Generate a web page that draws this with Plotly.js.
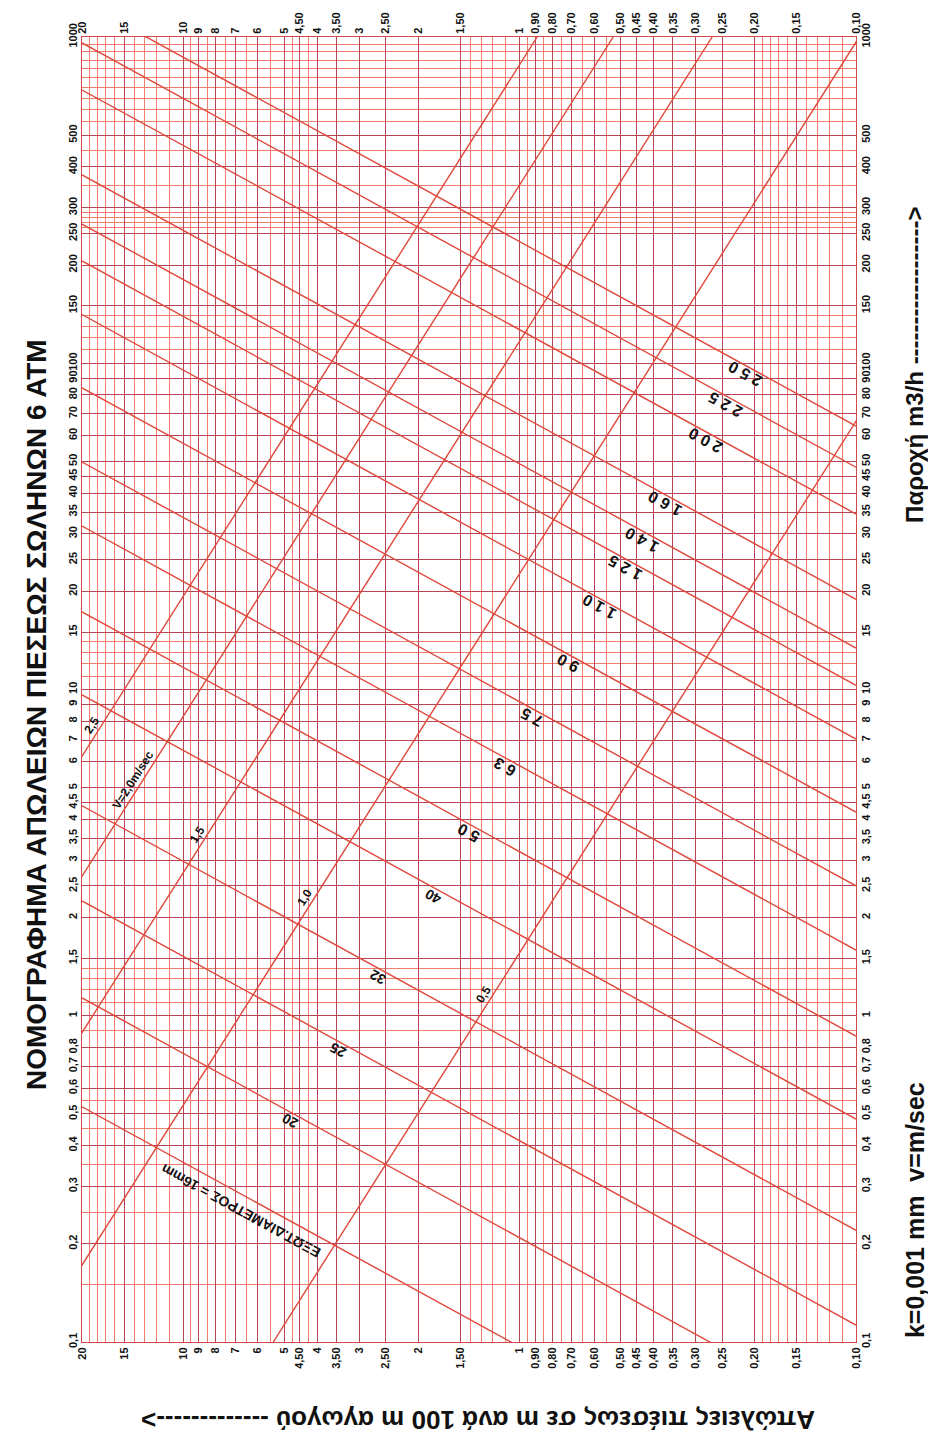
<!DOCTYPE html>
<html>
<head>
<meta charset="utf-8">
<script src="https://cdn.plot.ly/plotly-3.0.1.min.js"></script>
<style>
html,body{margin:0;padding:0;background:#fff;}
#chart{width:928px;height:1437px;}
</style>
</head>
<body>
<div id="chart"></div>
<script>
// ---------------- DATA ----------------
// Head loss axis (m per 100 m) - labelled grid values
const lossMajor = [20,15,10,9,8,7,6,5,4.5,4,3.5,3,2.5,2,1.5,1,0.9,0.8,0.7,0.6,0.5,0.45,0.4,0.35,0.3,0.25,0.2,0.15,0.1];
const lossMajorText = ["20","15","10","9","8","7","6","5","4,50","4","3,50","3","2,50","2","1,50","1","0,90","0,80","0,70","0,60","0,50","0,45","0,40","0,35","0,30","0,25","0,20","0,15","0,10"];
// unlabelled head-loss grid values
const lossMinor = [19,18,17,16,14,13,12,11,9.5,8.5,7.5,6.5,5.5,4.75,4.25,1.4,1.3,1.2,1.1,0.95,0.85,0.75,0.65,0.55,0.19,0.18,0.17,0.16,0.14,0.13,0.12,0.11];

// Flow axis (m3/h) - labelled grid values
const flowMajor = [0.1,0.2,0.3,0.4,0.5,0.6,0.7,0.8,1,1.5,2,2.5,3,3.5,4,4.5,5,6,7,8,9,10,15,20,25,30,35,40,45,50,60,70,80,90,100,150,200,250,300,400,500,1000];
const flowMajorText = ["0,1","0,2","0,3","0,4","0,5","0,6","0,7","0,8","1","1,5","2","2,5","3","3,5","4","4,5","5","6","7","8","9","10","15","20","25","30","35","40","45","50","60","70","80","90","100","150","200","250","300","400","500","1000"];
// unlabelled flow grid values
const flowMinor = [0.15,0.25,0.35,0.45,0.55,0.9,1.1,1.2,1.3,1.4,11,12,13,14,110,120,130,140,260,270,280,290,350,450,550,600,650,700,750,800,850,900,950];

// Pipe outside diameters (mm) and the flow each line has at 20 and at 0.1 m/100m
const diameters = ["16","20","25","32","40","50","63","75","90","110","125","140","160","200","225","250"];
const diaFlowAtLoss20 = [0.526,1.134,2.25,4.40,9.63,17.3,31.7,49.8,84.0,141,206,267,378,688,959,1282];
const diaFlowAtLoss01 = [0.0263,0.0568,0.1127,0.220,0.482,0.866,1.59,2.50,4.21,7.05,10.3,13.4,18.9,34.5,48.0,64.2];
const diaLabels = ["ΕΞΩΤ.ΔΙΑΜΕΤΡΟΣ = 16mm","20","25","32","40","5 0","6 3","7 5","9 0","1 1 0","1 2 5","1 4 0","1 6 0","2 0 0","2 2 5","2 5 0"];

// Velocity lines (m/sec): head loss at flow 1000 and at flow 0.1
const velocities = ["0,5","1,0","1,5","2,0","2,5"];
const velLossAtFlow1000 = [0.01893,0.0978,0.2677,0.527,0.887];
const velLossAtFlow01 = [5.40,27.9,76.4,150.4,253];
const velLabels = ["0,5","1,0","1,5","V=2,0m/sec","2,5"];

// ---------------- LAYOUT HELPERS ----------------
const diaLabelLoss = [6.73,4.82,3.47,2.64,1.81,1.42,1.105,0.919,0.718,0.581,0.486,0.433,0.370,0.281,0.245,0.214];
const velLabelFlow = [1.16,2.31,3.58,5.28,7.79];

const FONT = "'Liberation Sans',Arial,sans-serif";
const majorColor = "#b84458";
const minorColor = "#ef7f6c";
const lineColor = "#e0473a";
const L = Math.log10;

const traces = [];
diameters.forEach((d,i)=>{
  traces.push({type:"scatter",mode:"lines",x:[20,0.1],y:[diaFlowAtLoss20[i],diaFlowAtLoss01[i]],
    line:{color:lineColor,width:1.4},hoverinfo:"skip",xaxis:"x",yaxis:"y",name:d});
});
velocities.forEach((v,i)=>{
  traces.push({type:"scatter",mode:"lines",x:[velLossAtFlow1000[i],velLossAtFlow01[i]],y:[1000,0.1],
    line:{color:lineColor,width:1.4},hoverinfo:"skip",xaxis:"x2",yaxis:"y2",name:v});
});

const annotations = [];
diameters.forEach((d,i)=>{
  const lx = L(diaLabelLoss[i]);
  const t = (L(20)-lx)/(L(20)-L(0.1));
  const ly = L(diaFlowAtLoss20[i]) + t*(L(diaFlowAtLoss01[i])-L(diaFlowAtLoss20[i]));
  annotations.push({x:lx,y:ly,xref:"x",yref:"y",text:diaLabels[i],showarrow:false,textangle:-151.3,
    xanchor:"center",yanchor:"middle",
    yshift:(i===0?-17:-9),font:{family:FONT,size:(i===0?14:(i<5?14:16)),weight:"bold",color:"#111"}});
});
velocities.forEach((v,i)=>{
  const ly = L(velLabelFlow[i]);
  const t = (L(1000)-ly)/(L(1000)-L(0.1));
  const lx = L(velLossAtFlow1000[i]) + t*(L(velLossAtFlow01[i])-L(velLossAtFlow1000[i]));
  annotations.push({x:lx,y:ly,xref:"x",yref:"y",text:velLabels[i],showarrow:false,textangle:-57.7,
    xanchor:"center",yanchor:"middle",
    xshift:-10,font:{family:FONT,size:12,weight:"bold",color:"#111"}});
});
const big = (x,y,text,angle,size)=>({xref:"paper",yref:"paper",x:x,y:y,text:text,showarrow:false,textangle:angle,
  xanchor:"center",yanchor:"middle",font:{family:FONT,size:size,weight:"bold",color:"#111"}});
annotations.push(big(-0.0581,0.4805,"ΝΟΜΟΓΡΑΦΗΜΑ ΑΠΩΛΕΙΩΝ ΠΙΕΣΕΩΣ ΣΩΛΗΝΩΝ 6 ΑΤΜ",-90,28));
annotations.push(big(1.0762,0.7487,"Παροχή m3/h ------------------>",-90,24));
annotations.push(big(1.0762,0.1011,"k=0,001 mm  v=m/sec",-90,25));
annotations.push(big(0.5116,-0.0598,"Απώλειες πιέσεως σε m ανά 100 m αγωγού ------------->",180,26));

const tickfont = {family:FONT,size:11,weight:"bold",color:"#111"};
const lossRange = [L(20),L(0.1)];
const flowRange = [L(0.1),L(1000)];

const layout = {
  width:928,height:1437,
  margin:{l:82,r:72,t:37,b:95,pad:0},
  paper_bgcolor:"#fff",plot_bgcolor:"#fff",
  showlegend:false,
  xaxis:{type:"log",range:lossRange,autorange:false,tickmode:"array",tickvals:lossMajor,ticktext:lossMajorText,
    tickangle:-90,ticks:"",showgrid:true,gridcolor:majorColor,gridwidth:1,zeroline:false,
    showline:true,linecolor:"#d04a4a",linewidth:1,tickfont:tickfont,side:"bottom",fixedrange:true,
    minor:{tickmode:"array",tickvals:lossMinor,showgrid:true,gridcolor:minorColor,gridwidth:1,ticks:""}},
  xaxis2:{type:"log",range:lossRange,autorange:false,overlaying:"x",anchor:"y2",side:"top",tickmode:"array",
    tickvals:lossMajor,ticktext:lossMajorText,tickangle:-90,ticks:"",showgrid:false,zeroline:false,
    showline:true,linecolor:"#d04a4a",linewidth:1,tickfont:tickfont,fixedrange:true},
  yaxis:{type:"log",range:flowRange,autorange:false,tickmode:"array",tickvals:flowMajor,ticktext:flowMajorText,
    tickangle:-90,ticks:"",showgrid:true,gridcolor:majorColor,gridwidth:1,zeroline:false,
    showline:true,linecolor:"#d04a4a",linewidth:1,tickfont:tickfont,side:"left",fixedrange:true,
    minor:{tickmode:"array",tickvals:flowMinor,showgrid:true,gridcolor:minorColor,gridwidth:1,ticks:""}},
  yaxis2:{type:"log",range:flowRange,autorange:false,overlaying:"y",anchor:"x2",side:"right",tickmode:"array",
    tickvals:flowMajor,ticktext:flowMajorText,tickangle:-90,ticks:"",showgrid:false,zeroline:false,
    showline:true,linecolor:"#d04a4a",linewidth:1,tickfont:tickfont,fixedrange:true},
  annotations:annotations
};

Plotly.newPlot("chart",traces,layout,{displayModeBar:false,staticPlot:true});
</script>
</body>
</html>
